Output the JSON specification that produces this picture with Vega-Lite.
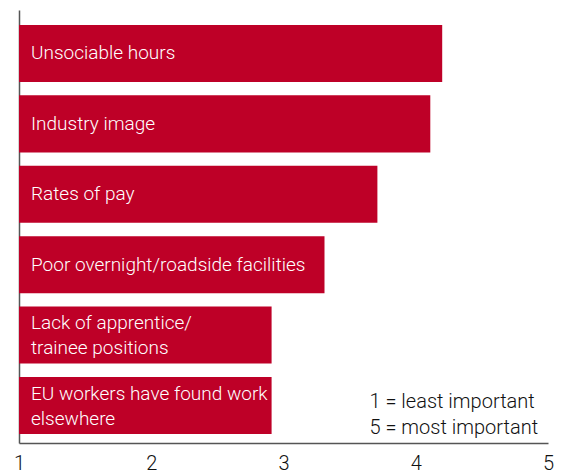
{
  "$schema": "https://vega.github.io/schema/vega-lite/v6.json",
  "width": 529,
  "height": 433,
  "autosize": {"type": "none"},
  "padding": {"left": 19, "top": 10, "right": 13, "bottom": 32},
  "background": "white",
  "config": {
    "view": {"stroke": null},
    "font": "Roboto"
  },
  "data": {
    "values": [
      {"reason": "Unsociable hours", "score": 4.2},
      {"reason": "Industry image", "score": 4.11},
      {"reason": "Rates of pay", "score": 3.71},
      {"reason": "Poor overnight/roadside facilities", "score": 3.31},
      {"reason": "Lack of apprentice/\ntrainee positions", "score": 2.91},
      {"reason": "EU workers have found work\nelsewhere", "score": 2.91}
    ]
  },
  "encoding": {
    "y": {
      "field": "reason",
      "type": "nominal",
      "sort": null,
      "scale": {"paddingInner": 0.19, "paddingOuter": 0.17, "align": 0.625},
      "axis": {
        "title": null,
        "labels": false,
        "ticks": false,
        "domainColor": "#555555",
        "domainWidth": 1.5
      }
    }
  },
  "layer": [
    {
      "mark": {"type": "bar", "color": "#BE0027"},
      "encoding": {
        "x": {
          "field": "score",
          "type": "quantitative",
          "scale": {"domain": [1, 5], "zero": false, "nice": false},
          "axis": {
            "title": null,
            "values": [1, 2, 3, 4, 5],
            "format": "d",
            "ticks": false,
            "grid": false,
            "domainColor": "#555555",
            "domainWidth": 1.5,
            "labelFontSize": 20,
            "labelFontWeight": 300,
            "labelColor": "#111111",
            "labelPadding": 10,
            "labelFlush": false,
            "labelOverlap": false
          }
        },
        "x2": {"datum": 1}
      }
    },
    {
      "transform": [{"filter": "indexof(datum.reason, '\\n') < 0"}],
      "mark": {
        "type": "text",
        "align": "left",
        "baseline": "middle",
        "dx": 12,
        "color": "white",
        "fontSize": 19,
        "fontWeight": 300,
        "lineBreak": "\n",
        "lineHeight": 25
      },
      "encoding": {
        "x": {"datum": 1},
        "text": {"field": "reason"}
      }
    },
    {
      "transform": [{"filter": "indexof(datum.reason, '\\n') >= 0"}],
      "mark": {
        "type": "text",
        "align": "left",
        "baseline": "middle",
        "dx": 12,
        "dy": -12,
        "color": "white",
        "fontSize": 19,
        "fontWeight": 300,
        "lineBreak": "\n",
        "lineHeight": 25
      },
      "encoding": {
        "x": {"datum": 1},
        "text": {"field": "reason"}
      }
    },
    {
      "data": {
        "values": [
          {"reason": "EU workers have found work\nelsewhere", "pos": 3.65, "note": "1 = least important\n5 = most important"}
        ]
      },
      "mark": {
        "type": "text",
        "align": "left",
        "baseline": "middle",
        "dy": -4,
        "color": "#111111",
        "fontSize": 20,
        "fontWeight": 300,
        "lineBreak": "\n",
        "lineHeight": 26
      },
      "encoding": {
        "x": {"field": "pos", "type": "quantitative"},
        "text": {"field": "note"}
      }
    }
  ]
}
